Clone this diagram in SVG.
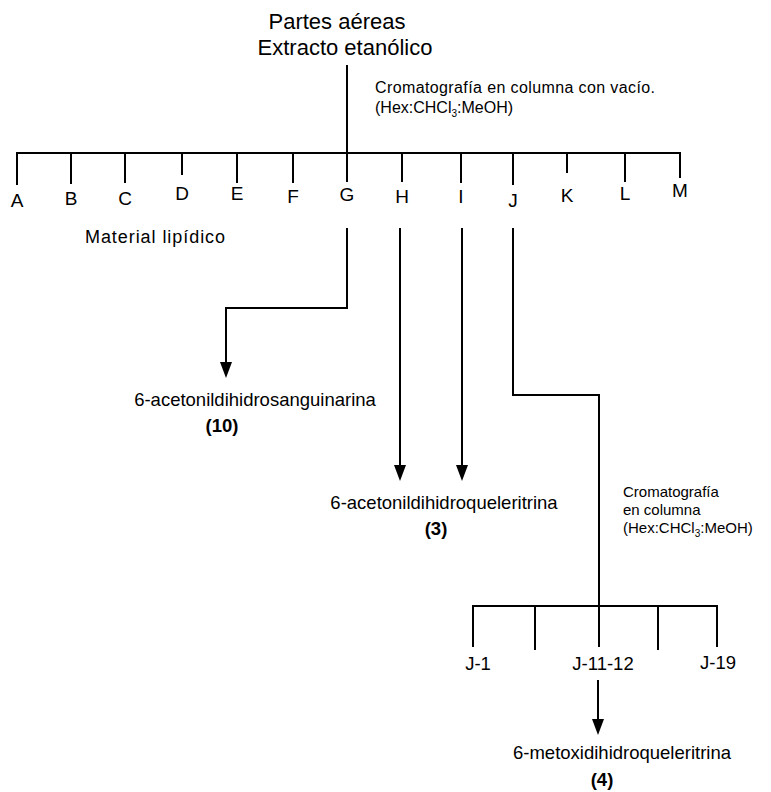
<svg xmlns="http://www.w3.org/2000/svg" width="771" height="792" viewBox="0 0 771 792">
<style>
text{font-family:"Liberation Sans",Arial,sans-serif;fill:#000}
.t{font-size:22px;text-anchor:middle}
.l{font-size:19px;text-anchor:middle}
.c{font-size:16px}
.c2{font-size:15px}
.n{font-size:18.5px;text-anchor:middle}
.b{font-weight:bold}
.ln{fill:none;stroke:#000;stroke-width:2}
.sub{font-size:10px}
</style>
<rect width="771" height="792" fill="#fff"/>
<g id="connectors">
<path class="ln" d="M347,65 V182"/>
<path class="ln" d="M17,185 V153 H680 V178"/>
<path class="ln" d="M71,153 V184 M125,153 V183 M182,153 V175 M237,153 V183 M293,153 V183 M402,153 V182 M461,153 V183 M513,153 V185 M567,153 V173 M625,153 V182"/>
<path class="ln" d="M347,228 V308 H226 V362"/>
<path d="M220,362 L232,362 L226,378 Z"/>
<path class="ln" d="M400,228 V465"/>
<path d="M394,465 L406,465 L400,481 Z"/>
<path class="ln" d="M462,228 V465"/>
<path d="M456,465 L468,465 L462,481 Z"/>
<path class="ln" d="M513,228 V395 H599 V647"/>
<path class="ln" d="M473,647 V606 H717 V647 M535,606 V650 M658,606 V650"/>
<path class="ln" d="M598,680 V719"/>
<path d="M592,719 L604,719 L598,735 Z"/>
</g>
<g id="title">
<text class="t" x="337" y="29">Partes aéreas</text>
<text class="t" x="345" y="55">Extracto etanólico</text>
</g>
<g id="chrom1">
<text class="c" x="375" y="93" textLength="280">Cromatografía en columna con vacío.</text>
<text class="c" x="375" y="113">(Hex:CHCl<tspan class="sub" dy="4">3</tspan><tspan dy="-4">:MeOH)</tspan></text>
</g>
<g id="fractions">
<text class="l" x="17" y="207">A</text>
<text class="l" x="71" y="205">B</text>
<text class="l" x="125" y="205">C</text>
<text class="l" x="182" y="200">D</text>
<text class="l" x="237" y="200">E</text>
<text class="l" x="293" y="203">F</text>
<text class="l" x="347" y="201">G</text>
<text class="l" x="402" y="203">H</text>
<text class="l" x="461" y="203">I</text>
<text class="l" x="513" y="207">J</text>
<text class="l" x="567" y="202">K</text>
<text class="l" x="625" y="200">L</text>
<text class="l" x="680" y="197">M</text>
</g>
<g id="lipid">
<text x="85" y="243" font-size="18" textLength="140">Material lipídico</text>
</g>
<g id="c10">
<text class="n" x="255" y="406">6-acetonildihidrosanguinarina</text>
<text class="n b" x="222" y="432">(10)</text>
</g>
<g id="c3">
<text class="n" x="444" y="509">6-acetonildihidroqueleritrina</text>
<text class="n b" x="436" y="535">(3)</text>
</g>
<g id="chrom2">
<text class="c2" x="623" y="497">Cromatografía</text>
<text class="c2" x="623" y="515">en columna</text>
<text class="c2" x="623" y="533">(Hex:CHCl<tspan class="sub" dy="4">3</tspan><tspan dy="-4">:MeOH)</tspan></text>
</g>
<g id="jfractions">
<text class="n" x="478" y="670">J-1</text>
<text class="n" x="603" y="670">J-11-12</text>
<text class="n" x="718" y="669">J-19</text>
</g>
<g id="c4">
<text class="n" x="622" y="759">6-metoxidihidroqueleritrina</text>
<text class="n b" x="602" y="786">(4)</text>
</g>
</svg>
